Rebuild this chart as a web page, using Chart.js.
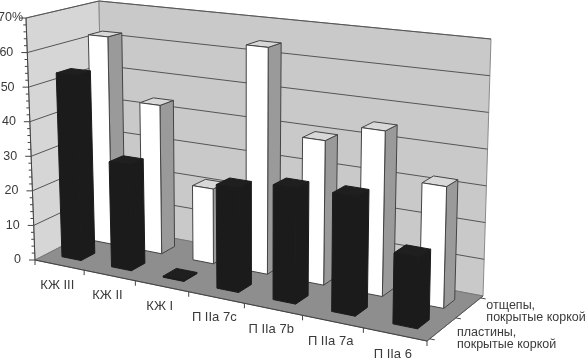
<!DOCTYPE html>
<html>
<head>
<meta charset="utf-8">
<style>
	html,body{margin:0;padding:0;background:#fff;}
	canvas{display:block;}
</style>
<script src="https://cdn.jsdelivr.net/npm/chart.js@4"></script>
</head>
<body>
<canvas id="myChart" width="585" height="359"></canvas>
<script>
!(function(){
	'use strict';

	var categories = ['КЖ III','КЖ II','КЖ I','П IIa 7c','П IIa 7b','П IIa 7a','П IIa 6'];
	var plastiny = [53.5,30,0.3,28.5,31,31.5,18.5];
	var otshchepy = [62,43.5,21.5,64,40,45,32.5];
	var seriesNames = [['пластины,','покрытые коркой'],['отщепы,','покрытые коркой']];
	var yTickValues = [0,10,20,30,40,50,60,70];
	var yTickLabels = ['0','10','20','30','40','50','60','70%'];

	// corners of the 3d box on screen: floor, then wall height at each floor corner
	var floor = {x00:35,y00:260,x10:427,y10:341,x11:483,y11:296,x01:103,y01:225};
	var rise = {x00:-9,y00:-242,x10:5,y10:-275,x11:8,y11:-257,x01:-4,y01:-224};

	var dx1 = floor.x10-floor.x11, dy1 = floor.y10-floor.y11;
	var dx2 = floor.x01-floor.x11, dy2 = floor.y01-floor.y11;
	var sx = floor.x00-floor.x10+floor.x11-floor.x01;
	var sy = floor.y00-floor.y10+floor.y11-floor.y01;
	var den = dx1*dy2-dx2*dy1;
	var g = (sx*dy2-dx2*sy)/den;
	var h = (dx1*sy-sx*dy1)/den;

	function project(u,w,v){
		var d = 1+g*u+h*w;
		var x = (floor.x00+(floor.x10*(1+g)-floor.x00)*u+(floor.x01*(1+h)-floor.x00)*w)/d;
		var y = (floor.y00+(floor.y10*(1+g)-floor.y00)*u+(floor.y01*(1+h)-floor.y00)*w)/d;
		var rx = rise.x00*(1-u)*(1-w)+rise.x10*u*(1-w)+rise.x11*u*w+rise.x01*(1-u)*w;
		var ry = rise.y00*(1-u)*(1-w)+rise.y10*u*(1-w)+rise.y11*u*w+rise.y01*(1-u)*w;
		return {x:x+rx*v,y:y+ry*v};
	}

	function face(ctx,pts,fill,stroke){
		ctx.beginPath();
		pts.forEach(function(p,i){
			if(i===0){ ctx.moveTo(p.x,p.y); } else { ctx.lineTo(p.x,p.y); }
		});
		ctx.closePath();
		ctx.fillStyle = fill;
		ctx.fill();
		if(stroke){
			ctx.strokeStyle = stroke;
			ctx.lineWidth = 1;
			ctx.stroke();
		}
	}

	function seg(ctx,a,b,color,width){
		ctx.beginPath();
		ctx.moveTo(a.x,a.y);
		ctx.lineTo(b.x,b.y);
		ctx.strokeStyle = color;
		ctx.lineWidth = width;
		ctx.stroke();
	}

	var box3d = {
		id:'box3d',
		afterDatasetsDraw:function(chart){
			var ctx = chart.ctx;
			var xs = chart.scales.x, ys = chart.scales.y, zs = chart.scales.z;
			function nv(val){ return (ys.bottom-ys.getPixelForValue(val))/ys.height; }
			function nz(val){ return (zs.getPixelForValue(val)-zs.left)/zs.width; }
			function nu(px){ return (px-xs.left)/xs.width; }

			ctx.save();

			// walls and floor
			face(ctx,[project(0,0,0),project(0,1,0),project(0,1,1),project(0,0,1)],'#d6d6d6','#8a8a8a');
			face(ctx,[project(0,1,0),project(1,1,0),project(1,1,1),project(0,1,1)],'#c9c9c9','#8a8a8a');
			face(ctx,[project(0,0,0),project(1,0,0),project(1,1,0),project(0,1,0)],'#8e8e8e','#777');

			// gridlines
			yTickValues.forEach(function(t){
				if(t===0){ return; }
				var v = nv(t);
				seg(ctx,project(0,0,v),project(0,1,v),'#555',1);
				seg(ctx,project(0,1,v),project(1,1,v),'#555',1);
			});

			// bars, back row first
			[1,0].forEach(function(di){
				var colors = di===1 ?
					{front:'#ffffff',side:'#9a9a9a',top:'#d8d8d8',line:'#444'} :
					{front:'#1b1b1b',side:'#1b1b1b',top:'#1f1f1f',line:'#1b1b1b'};
				var w0 = nz(di+0.5-0.22), w1 = nz(di+0.5+0.22);
				chart.getDatasetMeta(di).data.forEach(function(bar){
					var u0 = nu(bar.x-bar.width/2), u1 = nu(bar.x+bar.width/2);
					var v = nv(ys.getValueForPixel(bar.y));
					face(ctx,[project(u1,w0,0),project(u1,w1,0),project(u1,w1,v),project(u1,w0,v)],colors.side,colors.line);
					face(ctx,[project(u0,w0,v),project(u1,w0,v),project(u1,w1,v),project(u0,w1,v)],colors.top,colors.line);
					face(ctx,[project(u0,w0,0),project(u1,w0,0),project(u1,w0,v),project(u0,w0,v)],colors.front,colors.line);
				});
			});

			// axes
			seg(ctx,project(0,0,0),project(0,0,1),'#444',1);
			seg(ctx,project(0,0,0),project(1,0,0),'#444',1.2);
			seg(ctx,project(1,0,0),project(1,1,0),'#555',1);

			var font = '"Liberation Sans", Arial, sans-serif';
			ctx.font = '12.5px '+font;
			ctx.fillStyle = '#3a3a3a';
			ctx.textBaseline = 'middle';

			// value axis: minor ticks every 2, labels every 10
			for(var m=0;m<=70;m+=2){
				var pm = project(0,0,nv(m));
				seg(ctx,pm,{x:pm.x-(m%10===0?6:3),y:pm.y},'#444',1);
			}
			ctx.textAlign = 'left';
			yTickValues.forEach(function(t,i){
				var p = project(0,0,nv(t));
				var label = yTickLabels[i];
				var tw = ctx.measureText(label.replace('%','')).width;
				ctx.fillText(label,p.x-14-tw,p.y);
			});

			// category axis
			ctx.font = '13px '+font;
			var step = xs.width/categories.length;
			categories.forEach(function(name,i){
				var c = xs.getPixelForValue(i);
				var tick = project(nu(c+step/2),0,0);
				seg(ctx,tick,{x:tick.x,y:tick.y+5},'#444',1);
				var first = project(nu(c-step/2),0,0);
				if(i===0){ seg(ctx,first,{x:first.x,y:first.y+5},'#444',1); }
				var mid = project(nu(c),0,0);
				ctx.textAlign = 'center';
				ctx.fillStyle = '#3a3a3a';
				ctx.fillText(name,mid.x-2,mid.y+20);
			});

			// depth axis
			ctx.font = '12.5px '+font;
			var nudgeX = [14,18];
			var nudgeY = [10,4];
			seriesNames.forEach(function(lines,i){
				var p = project(1,nz(i+0.5),0);
				ctx.textAlign = 'left';
				ctx.fillStyle = '#3a3a3a';
				ctx.fillText(lines[0],p.x+nudgeX[i],p.y+nudgeY[i]-6);
				ctx.fillText(lines[1],p.x+nudgeX[i],p.y+nudgeY[i]+6);
			});
			[0,1,2].forEach(function(z){
				var p = project(1,nz(z),0);
				seg(ctx,p,{x:p.x+5,y:p.y+1},'#444',1);
			});

			ctx.restore();
		}
	};

	var ctx = document.getElementById('myChart').getContext('2d');
	var myChart = new Chart(ctx,{
		type:'bar',
		data:{
			labels:categories,
			datasets:[{
				label:seriesNames[0].join(' '),
				data:plastiny,
				backgroundColor:'transparent'
			},{
				label:seriesNames[1].join(' '),
				data:otshchepy,
				backgroundColor:'transparent'
			}]
		},
		options:{
			responsive:false,
			animation:false,
			layout:{padding:0},
			plugins:{legend:{display:false},tooltip:{enabled:false}},
			datasets:{bar:{grouped:false,categoryPercentage:1,barPercentage:0.39}},
			scales:{
				x:{type:'category',display:false},
				y:{type:'linear',min:0,max:70,display:false},
				z:{type:'linear',axis:'x',position:'bottom',min:0,max:2,display:false}
			}
		},
		plugins:[box3d]
	});
})();
</script>
</body>
</html>
